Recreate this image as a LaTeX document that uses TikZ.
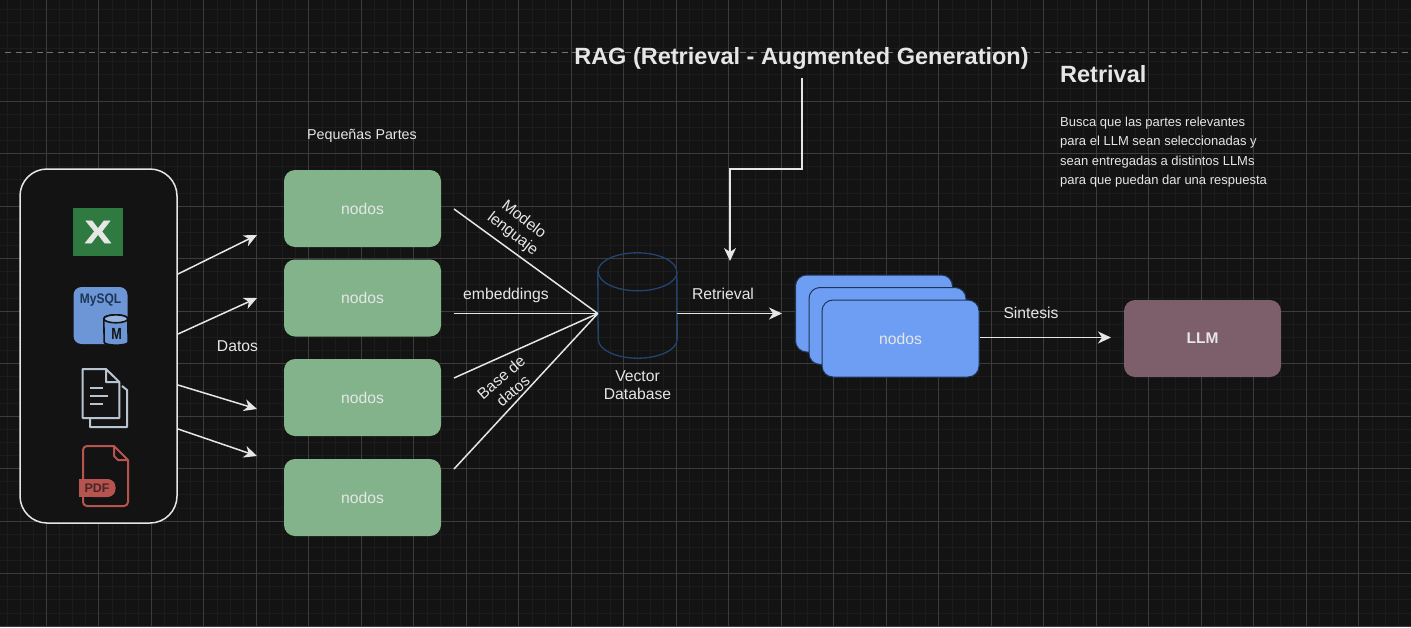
\documentclass[tikz,border=0pt]{standalone}
\usepackage{fontspec}
\usepackage{graphicx}
\setmainfont{Liberation Sans}
\newfontface\excelfont[FakeBold=2]{Liberation Sans Bold}
\usetikzlibrary{arrows.meta,positioning}
\definecolor{bgdark}{HTML}{131313}
\definecolor{gridminor}{HTML}{1C1C1C}
\definecolor{gridmajor}{HTML}{3C3C3C}
\definecolor{lighttext}{HTML}{E6E6E6}
\definecolor{greenbox}{HTML}{82B38A}
\definecolor{bluebox}{HTML}{6D9EF3}
\definecolor{blueline}{HTML}{1E3556}
\definecolor{dbline}{HTML}{23446F}
\definecolor{llmbox}{HTML}{7D5F6B}
\definecolor{excelgreen}{HTML}{2F7A40}
\definecolor{mysqlblue}{HTML}{6C96D6}
\definecolor{docgrey}{HTML}{B9C4D2}
\definecolor{pdfred}{HTML}{B85450}
\begin{document}
\begin{tikzpicture}[x=1pt, y=-1pt, font=\fontsize{15.7}{18}\selectfont]
		\tikzstyle{gridline}=[draw=gridminor, line width=.7pt]
		\tikzstyle{gridbold}=[draw=gridmajor, line width=.7pt]
		\tikzstyle{label}=[text=lighttext, align=center, inner sep=0pt]
		\tikzstyle{nodo}=[rectangle, rounded corners=11pt, minimum width=157pt, minimum height=77pt, inner sep=0pt, text=lighttext]
		\tikzstyle{green}=[nodo, fill=greenbox]
		\tikzstyle{blue}=[nodo, fill=bluebox, draw=blueline, line width=1pt]
		\tikzstyle{connect}=[-{Stealth[length=13pt, width=12pt, inset=4pt]}, draw=lighttext, line width=1.5pt]
		\tikzstyle{plain}=[draw=lighttext, line width=1.5pt]
		\tikzstyle{dbshape}=[draw=dbline, line width=1.3pt]
		\tikzstyle{iconline}=[line width=2pt, line join=round]
		\useasboundingbox (0,0) rectangle (1411,627);
		\fill[bgdark] (0,0) rectangle (1411,627);
		% grid
		\foreach \i in {0,...,108} \draw[gridline] ({-6.2+13.125*\i},0) -- ({-6.2+13.125*\i},627);
		\foreach \i in {0,...,48} \draw[gridline] (0,{-4+13.125*\i}) -- (1411,{-4+13.125*\i});
		\foreach \i in {0,...,27} \draw[gridbold] ({-6.2+52.5*\i},0) -- ({-6.2+52.5*\i},627);
		\foreach \i in {2,...,12} \draw[gridbold] (0,{-4+52.5*\i}) -- (1411,{-4+52.5*\i});
		\draw[draw=white!40!bgdark, line width=1pt, dash pattern=on 6pt off 4.5pt] (5,52) -- (1411,52);
		% sources
		\node[rectangle, rounded corners=27pt, draw=lighttext, line width=1.5pt, fill=bgdark, minimum width=157pt, minimum height=354pt] (src) at (98.5,346) {};
		\node[rectangle, fill=excelgreen, minimum width=50pt, minimum height=48pt, inner sep=0pt, text=lighttext, font=\fontsize{32}{32}\excelfont] (excel) at (98,232) {\scalebox{1.22}[1]{X}};
		\node[rectangle, rounded corners=8pt, fill=mysqlblue, minimum width=54pt, minimum height=57pt, inner sep=0pt] (mysql) at (100.5,315.5) {};
		\node[text=blueline, inner sep=0pt, font=\fontsize{12}{14}\selectfont\bfseries] (mysqltxt) at (100.5,300) {\scalebox{1}[1.15]{MySQL}};
		\node[rectangle, minimum width=24pt, minimum height=30pt, inner sep=0pt] (mysqldb) at (116,330) {};
		\draw[draw=bgdark, fill=mysqlblue, line width=1.6pt] ([yshift=-4pt]mysqldb.north west) arc[start angle=180, end angle=0, x radius=12pt, y radius=4pt] -- ([yshift=3pt]mysqldb.south east) arc[start angle=0, end angle=-180, x radius=12pt, y radius=3pt] -- cycle;
		\draw[draw=bgdark, fill=mysqlblue!70!white, line width=1.6pt] ([yshift=-4pt]mysqldb.north west) arc[start angle=180, end angle=-180, x radius=12pt, y radius=4pt];
		\node[text=bgdark, inner sep=0pt, font=\fontsize{14}{14}\selectfont\bfseries] (mysqlm) at (116.5,333.5) {\scalebox{.9}[1.15]{M}};
		% document icon
		\draw[draw=docgrey, iconline] (106,369) -- (82.7,369) -- (82.7,418) -- (119.3,418) -- (119.3,382) -- cycle (106,369) -- (106,382) -- (119.3,382);
		\draw[draw=docgrey, iconline] (122,386) -- (127,390) -- (127,427) -- (90,427) -- (90,418);
		\draw[draw=docgrey, iconline] (90,388) -- (103,388) (90,396) -- (108,396) (90,404) -- (103,404);
		% pdf icon
		\draw[draw=pdfred, iconline, rounded corners=4pt] (114,446) -- (83,446) -- (83,506) -- (128,506) -- (128,460);
		\draw[draw=pdfred, iconline] (114,446) -- (128,460) -- (118,460) -- (114,456) -- cycle;
		\fill[pdfred, rounded corners=8pt] (85,479) -- (115.5,479) -- (115.5,497) -- (85,497) -- cycle;
		\fill[pdfred] (78.5,479) rectangle (95,497);
		\node[text=bgdark!70!pdfred, inner sep=0pt, font=\fontsize{12.5}{14}\selectfont\bfseries] (pdftxt) at (97,488) {PDF};
		% arrows to the parts
		\coordinate (s1) at (178,274);
		\coordinate (s2) at (178,334);
		\coordinate (s3) at (178,385);
		\coordinate (s4) at (178,429);
		\coordinate (t1) at (257,235);
		\coordinate (t2) at (257,298);
		\coordinate (t3) at (257,409);
		\coordinate (t4) at (257,456);
		\path
		(s1) edge [connect] (t1)
		(s2) edge [connect] (t2)
		(s3) edge [connect] (t3)
		(s4) edge [connect] (t4)
		;
		\node[label] (datos) at (237.5,346) {Datos};
		% parts
		\node[label, font=\fontsize{14.3}{17}\selectfont] (partes) at (362,135.5) {Pequeñas Partes};
		\node[green] (n1) at (362.5,208.5) {nodos};
		\node[green] (n2) at (362.5,298) {nodos};
		\node[green] (n3) at (362.5,397.5) {nodos};
		\node[green] (n4) at (362.5,497.5) {nodos};
		% database
		\node[rectangle, minimum width=79pt, minimum height=105pt, inner sep=0pt] (db) at (637.5,305.5) {};
		\draw[dbshape] ([yshift=-19pt]db.north west) arc[start angle=180, end angle=0, x radius=39.5pt, y radius=19pt] -- ([yshift=19pt]db.south east) arc[start angle=0, end angle=-180, x radius=39.5pt, y radius=19pt] -- cycle;
		\draw[dbshape] ([yshift=-19pt]db.north east) arc[start angle=0, end angle=-180, x radius=39.5pt, y radius=19pt];
		\node[label, below=12.5pt of db] (dbtxt) {Vector\\Database};
		\coordinate (ret) at (782,313.5);
		\coordinate (dbin) at (db.west |- ret);
		\coordinate (e1) at (454,209);
		\coordinate (e2) at (454,313.5);
		\coordinate (e3) at (454,378);
		\coordinate (e4) at (454,469);
		\path
		(e1) edge [plain] (dbin)
		(e2) edge [plain] (dbin)
		(e3) edge [plain] (dbin)
		(e4) edge [plain] (dbin)
		;
		\node[label, rotate=-38] (modelo) at (518,227) {Modelo\\lenguaje};
		\node[label] (embed) at (506,295) {embeddings};
		\node[label, rotate=41] (base) at (507,384) {Base de\\datos};
		% stacked results
		\node[blue] (r1) at (874,313.5) {};
		\node[blue] (r2) at (887.5,326) {};
		\node[blue] (r3) at (900.5,338.5) {nodos};
		\path (db.east |- ret) edge [connect] (ret);
		\node[label] (retr) at (723,294) {Retrieval};
		% llm
		\node[nodo, fill=llmbox, font=\fontsize{15.5}{18}\selectfont\bfseries] (llm) at (1202.5,338.5) {LLM};
		\coordinate (sin) at (1111,337.5);
		\path (r3.east |- sin) edge [connect] (sin);
		\node[label] (sint) at (1031,313) {Sintesis};
		% titles
		\node[label, font=\fontsize{23.5}{28}\selectfont\bfseries] (rag) at (801.5,58) {RAG (Retrieval - Augmented Generation)};
		\coordinate (ragin) at (730,261);
		\coordinate (ragout) at (802,78);
		\draw[connect] (ragout) -- (802,169) -- (730,169) -- (ragin);
		\node[label, font=\fontsize{23.5}{28}\selectfont\bfseries, anchor=west] (retrival) at (1060,74) {Retrival};
		\node[label, font=\fontsize{13}{19.3}\selectfont, align=left, anchor=north west] (busca) at (1060,117) {Busca que las partes relevantes\\para el LLM sean seleccionadas y\\sean entregadas a distintos LLMs\\para que puedan dar una respuesta};
	\end{tikzpicture}
\end{document}
